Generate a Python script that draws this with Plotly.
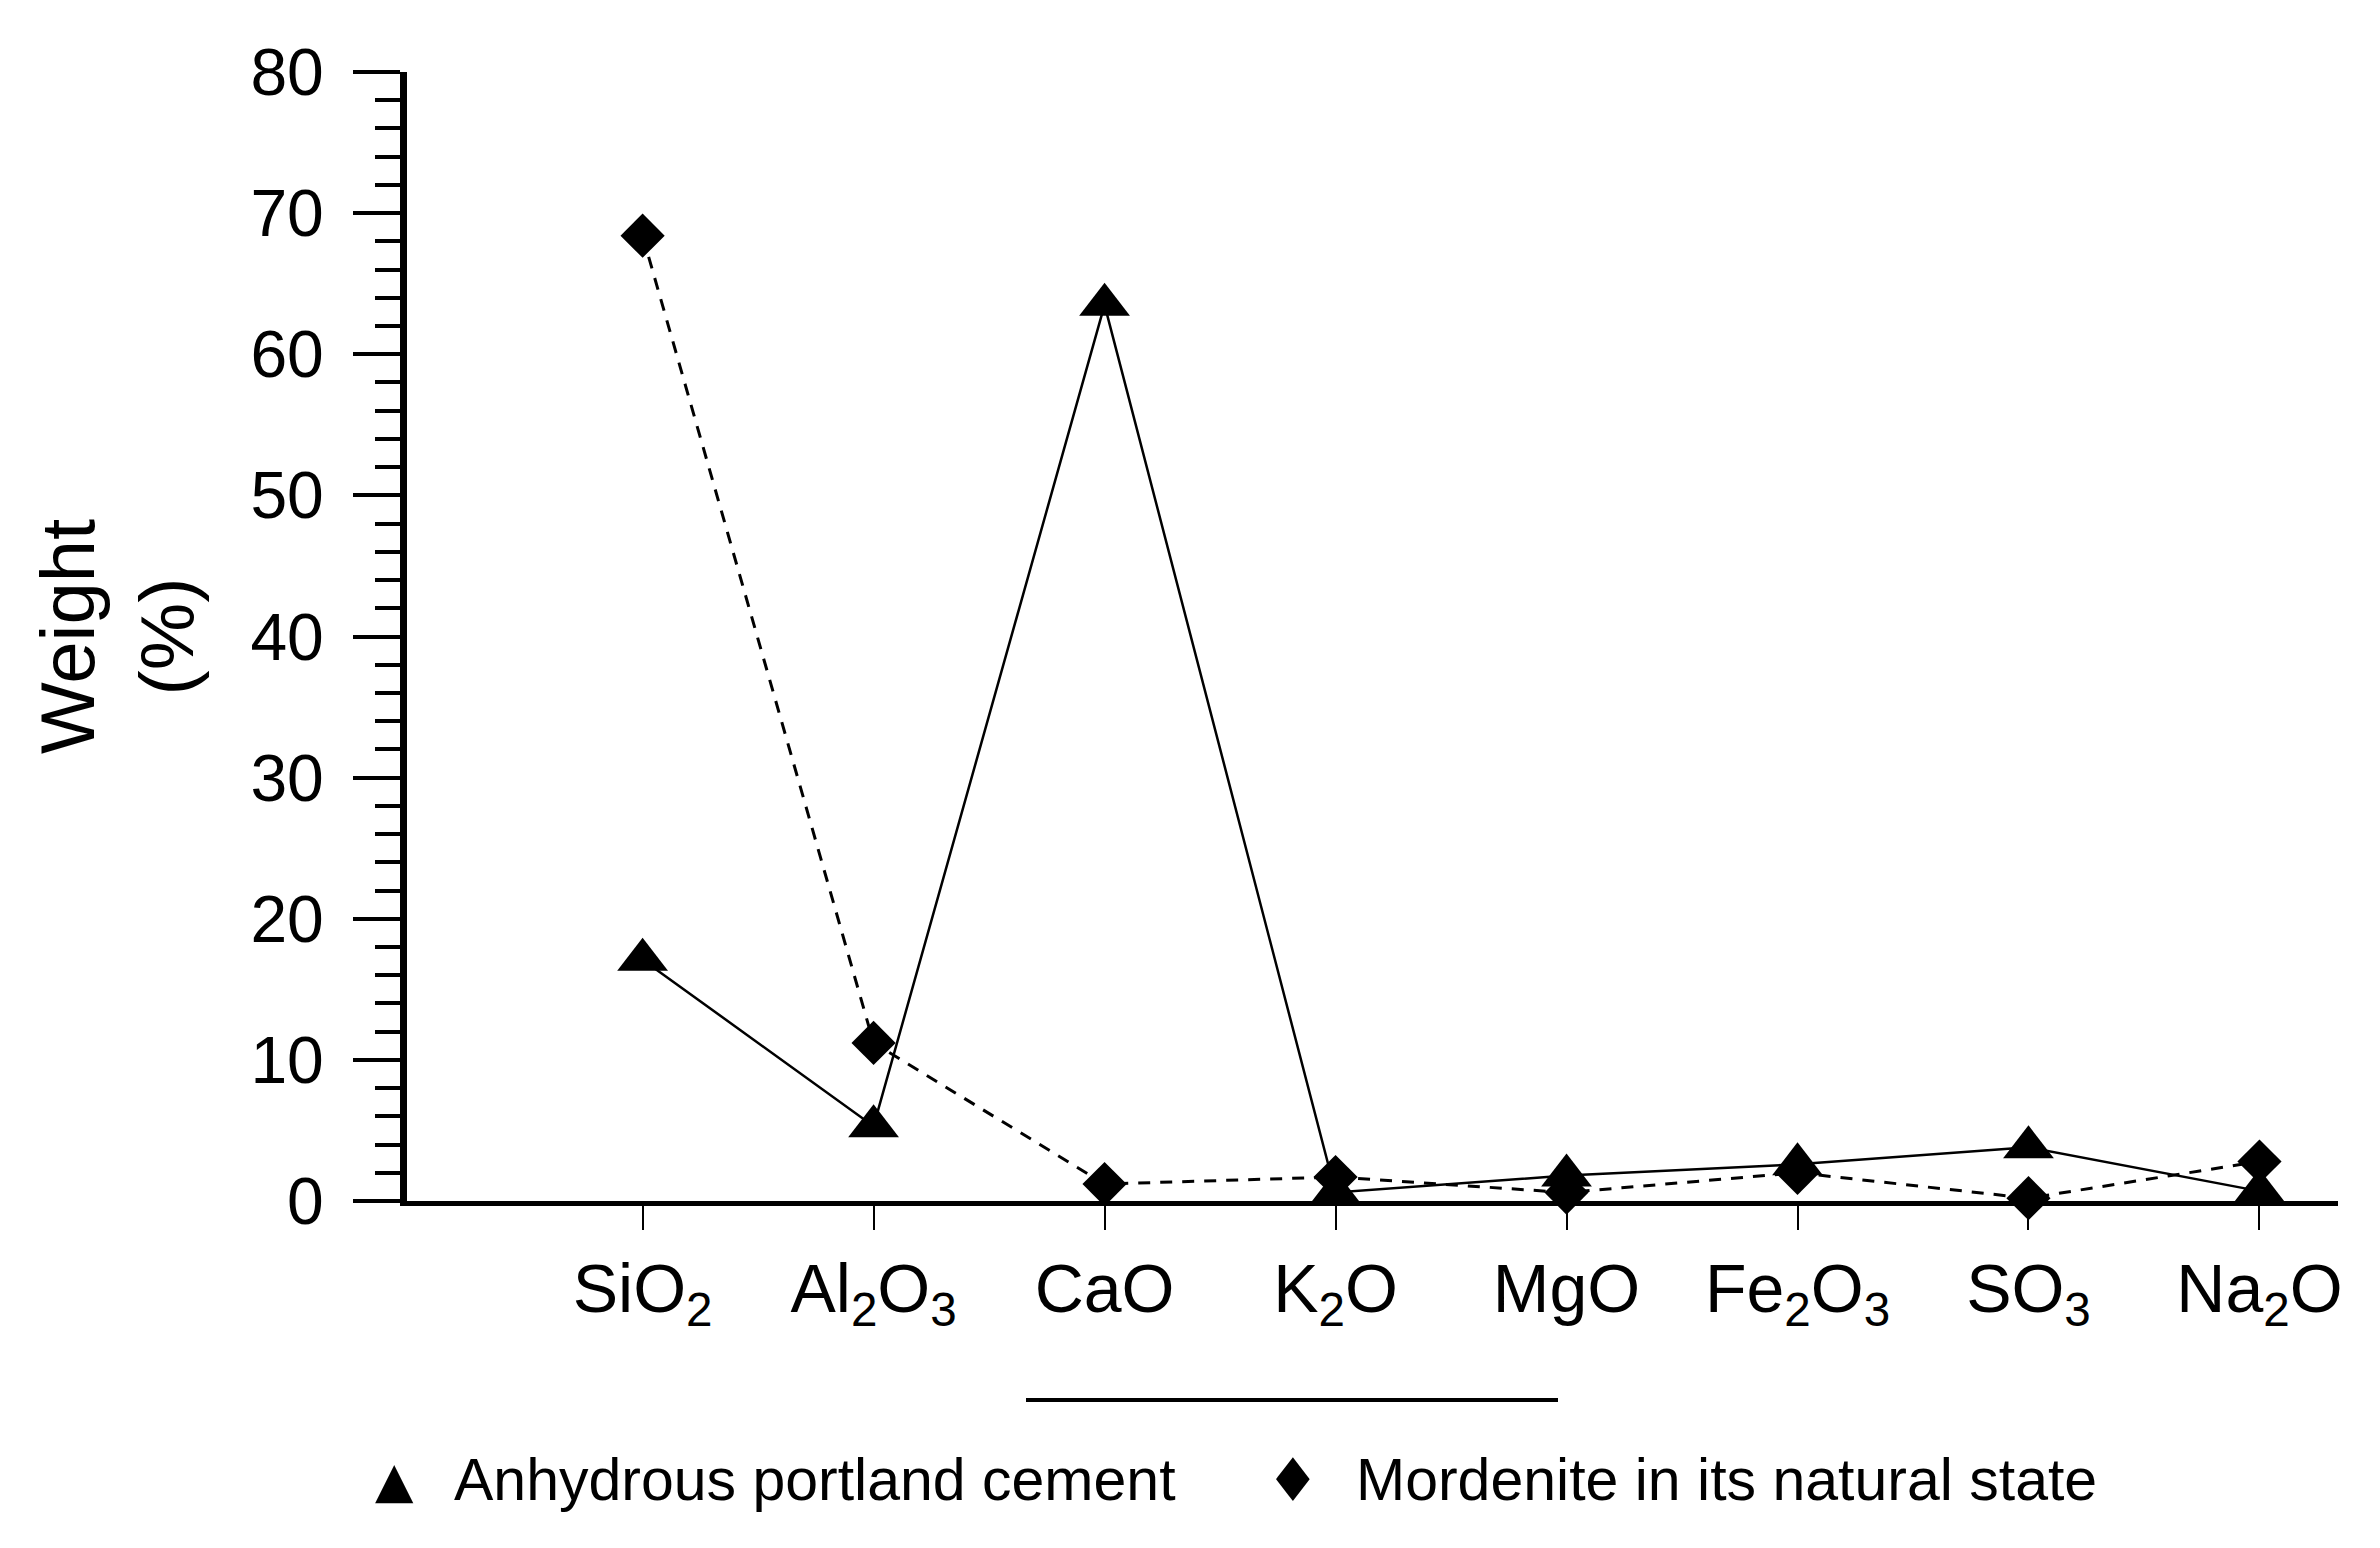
import plotly.graph_objects as go

categories = ["SiO<sub>2</sub>", "Al<sub>2</sub>O<sub>3</sub>", "CaO", "K<sub>2</sub>O", "MgO",
              "Fe<sub>2</sub>O<sub>3</sub>", "SO<sub>3</sub>", "Na<sub>2</sub>O"]
cement = [17.1, 5.3, 63.5, 0.6, 1.8, 2.6, 3.8, 0.7]
mordenite = [68.4, 11.2, 1.2, 1.7, 0.6, 2.0, 0.2, 2.8]
series_names = ["Anhydrous portland cement", "Mordenite in its natural state"]
y_ticks = [0, 10, 20, 30, 40, 50, 60, 70, 80]

xpos = list(range(len(categories)))
FONT = "Liberation Sans, Arial, sans-serif"

fig = go.Figure()
fig.add_trace(go.Scatter(
    x=xpos, y=cement, mode="lines+markers", name=series_names[0],
    line=dict(color="black", width=2.5),
    marker=dict(symbol="triangle-up", size=44, color="black"),
    cliponaxis=False, showlegend=False))
fig.add_trace(go.Scatter(
    x=xpos, y=mordenite, mode="lines+markers", name=series_names[1],
    line=dict(color="black", width=3, dash="12px,10px"),
    marker=dict(symbol="diamond", size=34, color="black"),
    cliponaxis=False, showlegend=False))

L, R, T, B = 399, 50, 64, 355
W, H = 2380, 1548
plot_w = W - L - R
plot_h = H - T - B

def px_x(p):
    return (p - L) / plot_w

def px_y(p):
    return (H - B - p) / plot_h

# legend (drawn as text)
leg_y = px_y(1472)
fig.add_annotation(x=px_x(386), y=leg_y, xref="paper", yref="paper", text="▲",
                   showarrow=False, xanchor="center", yanchor="middle",
                   font=dict(family="DejaVu Sans", size=50, color="black"))
fig.add_annotation(x=px_x(444), y=leg_y, xref="paper", yref="paper", text=series_names[0],
                   showarrow=False, xanchor="left", yanchor="middle",
                   font=dict(family=FONT, size=59, color="black"))
fig.add_annotation(x=px_x(1285), y=leg_y, xref="paper", yref="paper", text="♦",
                   showarrow=False, xanchor="center", yanchor="middle",
                   font=dict(family="DejaVu Sans", size=60, color="black"))
fig.add_annotation(x=px_x(1346), y=leg_y, xref="paper", yref="paper", text=series_names[1],
                   showarrow=False, xanchor="left", yanchor="middle",
                   font=dict(family=FONT, size=59, color="black"))

fig.add_shape(type="line", xref="paper", yref="paper",
              x0=px_x(1018), x1=px_x(1550), y0=px_y(1392), y1=px_y(1392),
              line=dict(color="black", width=4))

fig.update_xaxes(
    range=[-1.02, 7.34], tickmode="array", tickvals=xpos, ticktext=categories,
    showline=True, linecolor="black", linewidth=5,
    ticks="outside", ticklen=24, tickwidth=2, tickcolor="black",
    showgrid=False, zeroline=False,
    tickfont=dict(family=FONT, size=68, color="black"),
    ticklabelstandoff=0)
fig.update_yaxes(
    range=[0, 80], tickmode="array", tickvals=y_ticks,
    showline=True, linecolor="black", linewidth=7,
    ticks="outside", ticklen=47, tickwidth=4, tickcolor="black",
    minor=dict(dtick=2, ticks="outside", ticklen=25, tickwidth=4, tickcolor="black", showgrid=False),
    showgrid=False, zeroline=False,
    tickfont=dict(family=FONT, size=66, color="black"),
    ticklabelstandoff=16,
    title=dict(text="Weight<br>(%)", font=dict(family=FONT, size=76, color="black"), standoff=34))

fig.update_layout(
    width=W, height=H, autosize=False,
    margin=dict(l=L, r=R, t=T, b=B),
    paper_bgcolor="white", plot_bgcolor="white",
    font=dict(family=FONT, color="black"))

fig.write_html("out.html")
